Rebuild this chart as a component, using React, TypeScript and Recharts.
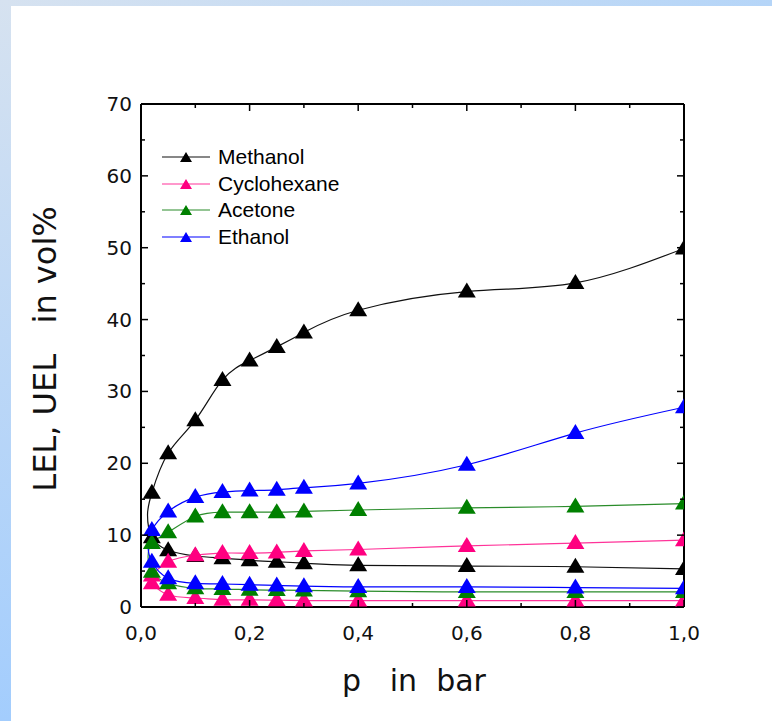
import { LineChart, Line, XAxis, YAxis } from 'recharts';

// pressure points (bar) where the limits were measured
const pressures = [0.02, 0.05, 0.1, 0.15, 0.2, 0.25, 0.3, 0.4, 0.6, 0.8, 1.0];

const methanolUEL = [15.9, 21.4, 26.0, 31.6, 34.3, 36.2, 38.2, 41.3, 43.9, 45.1, 49.9];
const methanolLEL = [9.7, 7.9, 7.1, 6.8, 6.5, 6.3, 6.1, 5.8, 5.7, 5.6, 5.3];
const cyclohexaneUEL = [4.4, 6.3, 7.2, 7.5, 7.5, 7.6, 7.8, 8.0, 8.5, 8.9, 9.3];
const cyclohexaneLEL = [3.3, 1.7, 1.25, 1.0, 1.0, 0.95, 0.9, 0.9, 0.9, 0.9, 0.9];
const acetoneUEL = [8.9, 10.4, 12.6, 13.2, 13.2, 13.2, 13.3, 13.5, 13.8, 14.0, 14.4];
const acetoneLEL = [4.9, 3.3, 2.6, 2.5, 2.4, 2.35, 2.3, 2.2, 2.1, 2.1, 2.1];
const ethanolUEL = [10.7, 13.3, 15.3, 16.0, 16.2, 16.3, 16.6, 17.2, 19.8, 24.2, 27.8];
const ethanolLEL = [6.3, 4.0, 3.3, 3.2, 3.1, 3.0, 2.9, 2.8, 2.8, 2.7, 2.6];

// where the LEL and UEL branches meet on the left (no marker there)
const noseP = [0.012, 0.014, 0.013, 0.013];
const noseV = [12.8, 3.9, 7.0, 8.5];

const names = ['Methanol', 'Cyclohexane', 'Acetone', 'Ethanol'];
const markerColors = ['#000000', '#ff0080', '#008000', '#0000ff'];
const lineColors = ['#111111', '#ff3399', '#2a8c2a', '#0000ff'];

const xTicks = [0, 0.1, 0.2, 0.3, 0.4, 0.5, 0.6, 0.7, 0.8, 0.9, 1.0];
const yTicks = [0, 5, 10, 15, 20, 25, 30, 35, 40, 45, 50, 55, 60, 65, 70];

const lels = [methanolLEL, cyclohexaneLEL, acetoneLEL, ethanolLEL];
const uels = [methanolUEL, cyclohexaneUEL, acetoneUEL, ethanolUEL];

function buildCurve(i: number) {
    const lower = pressures.map((p, k) => ({ p, v: lels[i][k], mark: true })).reverse();
    const upper = pressures.map((p, k) => ({ p, v: uels[i][k], mark: true }));
    return [...lower, { p: noseP[i], v: noseV[i], mark: false }, ...upper];
}

const series = names.map((name, i) => ({ name, data: buildCurve(i) }));

const TM = 8;
const MAJ = 7;
const MIN = 4;
const tickFont = { fontFamily: 'DejaVu Sans', fontSize: 20, fill: '#111' };

const fmtX = (v: number) => v.toFixed(1).replace('.', ',');

function BottomTick(props: any) {
    const { x, y, index, payload } = props;
    const major = index % 2 === 0;
    const y0 = y - TM;
    return (
        <g>
            <line x1={x} x2={x} y1={y0} y2={y0 - (major ? MAJ : MIN)} stroke="#000" strokeWidth={1.5} />
            {major && (
                <text x={x} y={y0 + 33} textAnchor="middle" {...tickFont}>
                    {fmtX(payload.value)}
                </text>
            )}
        </g>
    );
}

function TopTick(props: any) {
    const { x, y, index } = props;
    const major = index % 2 === 0;
    const y0 = y + TM;
    return <line x1={x} x2={x} y1={y0} y2={y0 + (major ? MAJ : MIN)} stroke="#000" strokeWidth={1.5} />;
}

function LeftTick(props: any) {
    const { x, y, index, payload } = props;
    const major = index % 2 === 0;
    const x0 = x + TM;
    return (
        <g>
            <line x1={x0} x2={x0 + (major ? MAJ : MIN)} y1={y} y2={y} stroke="#000" strokeWidth={1.5} />
            {major && (
                <text x={x0 - 9} y={y + 7} textAnchor="end" {...tickFont}>
                    {payload.value}
                </text>
            )}
        </g>
    );
}

function RightTick(props: any) {
    const { x, y, index } = props;
    const major = index % 2 === 0;
    const x0 = x - TM;
    return <line x1={x0} x2={x0 - (major ? MAJ : MIN)} y1={y} y2={y} stroke="#000" strokeWidth={1.5} />;
}

function triangle(cx: number, cy: number, w: number, h: number, color: string, key?: string) {
    const pts = `${cx},${cy - h * 0.6} ${cx - w / 2},${cy + h * 0.4} ${cx + w / 2},${cy + h * 0.4}`;
    return <polygon key={key} points={pts} fill={color} />;
}

function makeDot(color: string) {
    return (props: any) => {
        const { cx, cy, payload, index } = props;
        if (!payload.mark || cx == null) return <g key={`d${index}`} />;
        return triangle(cx, cy, 18, 15, color, `d${index}`);
    };
}

function LegendBox() {
    return (
        <div
            style={{
                position: 'absolute', left: 162, top: 144,
                fontFamily: 'Liberation Sans, Arial', fontSize: 21, color: '#000'
            }}
        >
            {names.map((n, i) => (
                <div key={n} style={{ display: 'flex', alignItems: 'center', height: 26.5 }}>
                    <svg width={48} height={16} style={{ marginRight: 8 }}>
                        <line x1={0} x2={48} y1={8} y2={8} stroke={lineColors[i]} strokeWidth={1.2} />
                        {triangle(24, 9, 12, 10, markerColors[i])}
                    </svg>
                    <span>{n}</span>
                </div>
            ))}
        </div>
    );
}

export default function App() {
    return (
        <div style={{ position: 'absolute', left: 0, top: 0, width: 772, height: 721, background: '#fff', overflow: 'hidden' }}>
            <div style={{ position: 'absolute', left: 0, top: 0, width: 772, height: 6, background: 'linear-gradient(to right, #d6e2f0, #b5d5f8)' }} />
            <div style={{ position: 'absolute', left: 0, top: 0, width: 11, height: 721, background: 'linear-gradient(to bottom, #d6e2f0, #a3cdfd)' }} />
            <LineChart width={772} height={721} margin={{ top: 103, right: 87, bottom: 74, left: 0 }}>
                <XAxis
                    dataKey="p"
                    type="number"
                    domain={[0, 1]}
                    ticks={xTicks}
                    allowDataOverflow
                    interval={0}
                    height={40}
                    tickSize={0}
                    tickMargin={TM}
                    tickLine={false}
                    axisLine={{ stroke: '#000', strokeWidth: 2 }}
                    tick={<BottomTick />}
                />
                <XAxis
                    xAxisId="top"
                    orientation="top"
                    dataKey="p"
                    type="number"
                    domain={[0, 1]}
                    ticks={xTicks}
                    allowDataOverflow
                    interval={0}
                    height={1}
                    tickSize={0}
                    tickMargin={TM}
                    tickLine={false}
                    axisLine={{ stroke: '#000', strokeWidth: 2 }}
                    tick={<TopTick />}
                />
                <YAxis
                    type="number"
                    domain={[0, 70]}
                    ticks={yTicks}
                    allowDataOverflow
                    interval={0}
                    width={141}
                    tickSize={0}
                    tickMargin={TM}
                    tickLine={false}
                    axisLine={{ stroke: '#000', strokeWidth: 2 }}
                    tick={<LeftTick />}
                />
                <YAxis
                    yAxisId="right"
                    orientation="right"
                    type="number"
                    domain={[0, 70]}
                    ticks={yTicks}
                    allowDataOverflow
                    interval={0}
                    width={1}
                    tickSize={0}
                    tickMargin={TM}
                    tickLine={false}
                    axisLine={{ stroke: '#000', strokeWidth: 2 }}
                    tick={<RightTick />}
                />
                {series.map((s, i) => (
                    <Line
                        key={s.name}
                        name={s.name}
                        data={s.data}
                        dataKey="v"
                        type="natural"
                        stroke={lineColors[i]}
                        strokeWidth={1.2}
                        dot={makeDot(markerColors[i])}
                        activeDot={false}
                        isAnimationActive={false}
                    />
                ))}
            </LineChart>
            <LegendBox />
            <div
                style={{
                    position: 'absolute', left: 414, top: 680, transform: 'translate(-50%, -50%)',
                    whiteSpace: 'pre', fontFamily: 'DejaVu Sans', fontSize: 30, color: '#111'
                }}
            >
                {'p   in  bar'}
            </div>
            <div
                style={{
                    position: 'absolute', left: 45, top: 349, transform: 'translate(-50%, -50%) rotate(-90deg)',
                    whiteSpace: 'pre', fontFamily: 'DejaVu Sans', fontSize: 32, color: '#111'
                }}
            >
                {'LEL, UEL   in vol%'}
            </div>
        </div>
    );
}
